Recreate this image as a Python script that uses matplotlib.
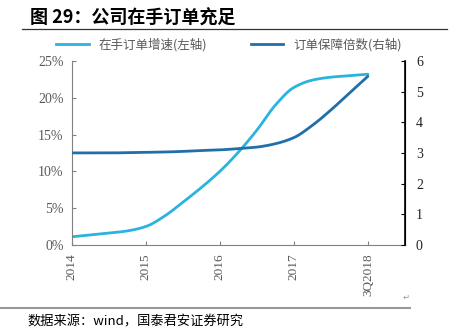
import matplotlib.pyplot as plt
import numpy as np
from matplotlib.lines import Line2D

plt.rcParams['font.family'] = ['Noto Sans CJK SC', 'DejaVu Sans']

# 横轴（按季度读数，只标注整年）
x_pos = [0, 0.25, 0.5, 0.75, 1, 1.25, 1.5, 1.75, 2, 2.25, 2.5, 2.75, 3, 3.25, 3.5, 3.75, 4]
tick_pos = [0, 1, 2, 3, 4]
tick_labels = ["2014", "2015", "2016", "2017", "3Q2018"]

# 在手订单增速 (%)，左轴
order_growth = [1.1, 1.35, 1.6, 1.9, 2.5, 3.9, 5.8, 7.8, 10.0, 12.6, 15.6, 19.0,
                21.4, 22.4, 22.8, 23.0, 23.2]
# 订单保障倍数，右轴
order_cover = [3.0, 3.0, 3.0, 3.01, 3.02, 3.03, 3.05, 3.08, 3.1, 3.14, 3.19, 3.3,
               3.5, 3.9, 4.4, 4.95, 5.5]

light = '#2BB3E0'
dark = '#1F6FAA'
gray = '#595959'
serif = ['Liberation Serif', 'DejaVu Serif']


def smooth(x, y, n=300):
    """单调三次插值（Fritsch-Carlson），用于画平滑线，不过冲"""
    x = np.asarray(x, float)
    y = np.asarray(y, float)
    h = np.diff(x)
    d = np.diff(y) / h
    m = np.zeros_like(y)
    m[0], m[-1] = d[0], d[-1]
    for i in range(1, len(y) - 1):
        if d[i - 1] * d[i] > 0:
            w1 = 2 * h[i] + h[i - 1]
            w2 = h[i] + 2 * h[i - 1]
            m[i] = (w1 + w2) / (w1 / d[i - 1] + w2 / d[i])
    xs = np.linspace(x[0], x[-1], n)
    k = np.clip(np.searchsorted(x, xs) - 1, 0, len(x) - 2)
    t = (xs - x[k]) / h[k]
    h00 = 2 * t ** 3 - 3 * t ** 2 + 1
    h10 = t ** 3 - 2 * t ** 2 + t
    h01 = -2 * t ** 3 + 3 * t ** 2
    h11 = t ** 3 - t ** 2
    ys = h00 * y[k] + h10 * h[k] * m[k] + h01 * y[k + 1] + h11 * h[k] * m[k + 1]
    return xs, ys


fig = plt.figure(figsize=(4.58, 3.35), dpi=100)
ax = fig.add_axes([0.157, 0.269, 0.727, 0.549])
ax2 = ax.twinx()

sx, sy = smooth(x_pos, order_growth)
ax.plot(sx, sy, color=light, lw=2, solid_capstyle='round')
sx, sy = smooth(x_pos, order_cover)
ax2.plot(sx, sy, color=dark, lw=2, solid_capstyle='round')

ax.set_xlim(0, 4.5)
ax.set_ylim(0, 25)
ax2.set_ylim(0, 6)
ax.set_yticks(range(0, 26, 5))
ax.set_yticklabels([f"{v}%" for v in range(0, 26, 5)], family=serif, fontsize=10, color=gray)
ax2.set_yticks(range(0, 7))
ax2.set_yticklabels([str(v) for v in range(0, 7)], family=serif, fontsize=10, color='#222222')
ax.set_xticks(tick_pos)
ax.set_xticklabels(tick_labels, rotation=90, family=serif, fontsize=9.5, color=gray)

for a in (ax, ax2):
    a.spines['top'].set_visible(False)
ax.spines['left'].set_color('#808080')
ax.spines['bottom'].set_color('#808080')
ax2.spines['left'].set_visible(False)
ax2.spines['bottom'].set_visible(False)
ax2.spines['right'].set_color('black')
ax2.spines['right'].set_linewidth(1.2)
ax.tick_params(axis='both', direction='in', length=3, color='#808080', pad=6)
ax2.tick_params(axis='y', direction='in', length=3, color='black', pad=8)

# 图例
handles = [Line2D([], [], color=light, lw=2), Line2D([], [], color=dark, lw=2)]
fig.legend(handles, ["在手订单增速(左轴)", "订单保障倍数(右轴)"], loc='center',
           bbox_to_anchor=(0.5, 0.868), ncol=2, frameon=False, fontsize=9,
           handlelength=2.6, columnspacing=3.5, labelcolor=gray)

# 标题、分隔线和资料来源
fig.text(0.065, 0.945, "图 29：公司在手订单充足", fontsize=13, fontweight='bold', va='center')
fig.add_artist(Line2D([0.048, 0.976], [0.913, 0.913], color='#333333', lw=0.9))
fig.add_artist(Line2D([0.0, 0.895], [0.081, 0.081], color='#999999', lw=1.5))
fig.text(0.06, 0.038, "数据来源：wind，国泰君安证券研究", fontsize=9.5, va='center')
fig.text(0.88, 0.105, "↵", fontsize=6, color='#999999', family='DejaVu Sans')

fig.savefig("out.png", dpi=100)
